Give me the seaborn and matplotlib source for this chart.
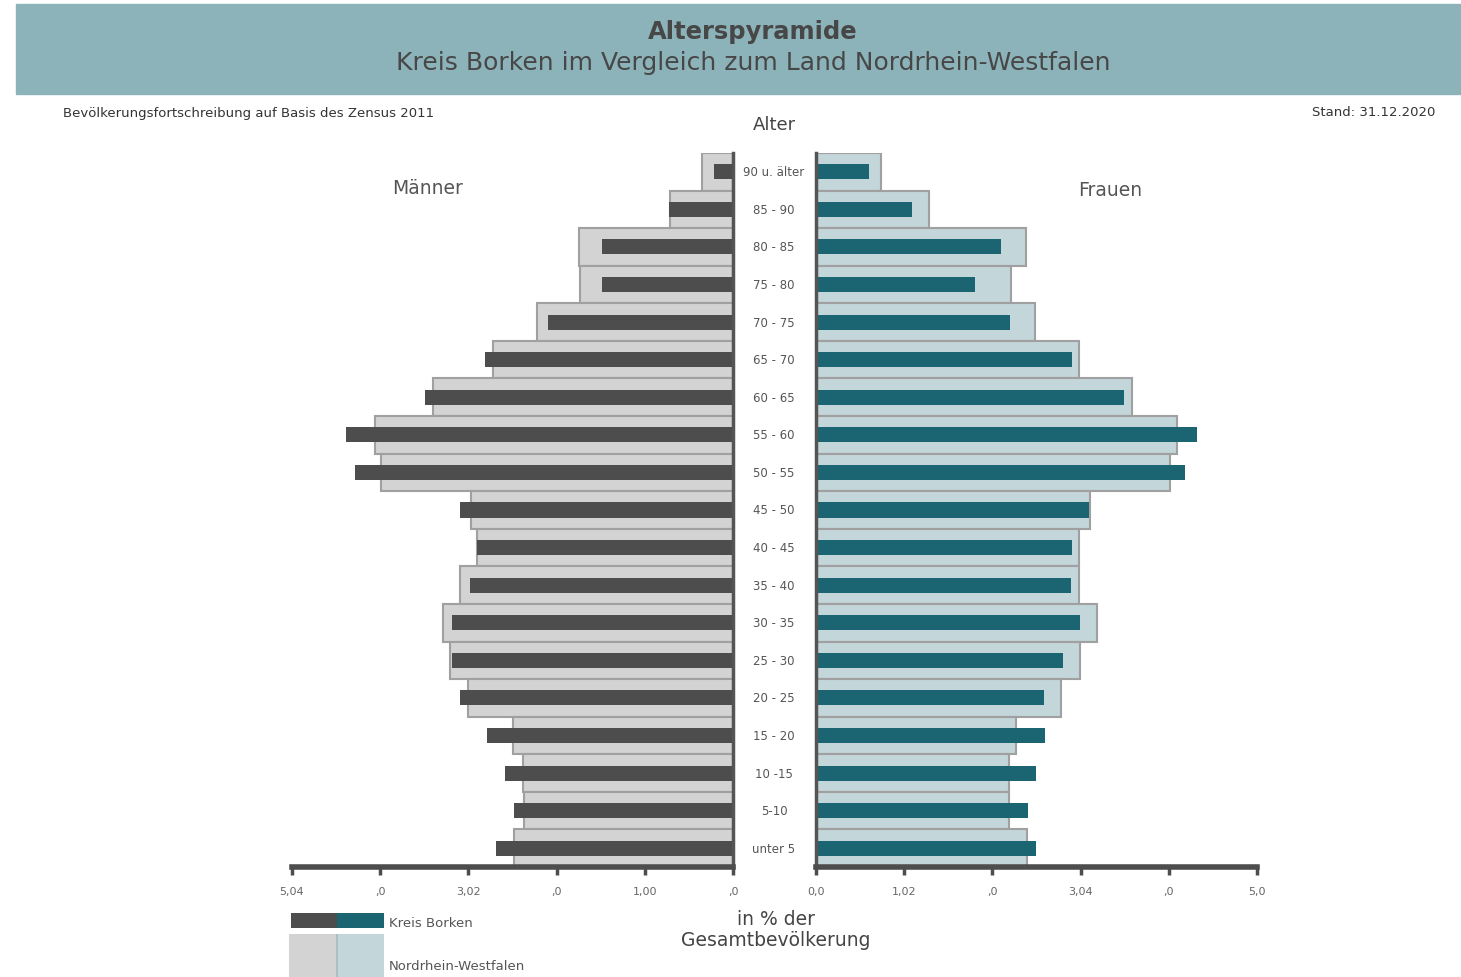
import numpy as np
import pandas as pd
import seaborn as sns
import matplotlib.pyplot as plt
from matplotlib.patches import Rectangle
from matplotlib.transforms import blended_transform_factory

# Altersgruppen (oben -> unten)
alter = ['90 u. älter', '85 - 90', '80 - 85', '75 - 80', '70 - 75', '65 - 70',
         '60 - 65', '55 - 60', '50 - 55', '45 - 50', '40 - 45', '35 - 40',
         '30 - 35', '25 - 30', '20 - 25', '15 - 20', '10 -15', '5-10', 'unter 5']

# Anteile in % der Gesamtbevoelkerung
maenner_nrw = [0.35, 0.72, 1.76, 1.75, 2.24, 2.74, 3.43, 4.09, 4.02, 3.00,
               2.93, 3.12, 3.32, 3.23, 3.03, 2.51, 2.40, 2.39, 2.50]
maenner_borken = [0.22, 0.73, 1.50, 1.50, 2.11, 2.83, 3.52, 4.42, 4.32, 3.12,
                  2.93, 3.01, 3.21, 3.21, 3.12, 2.81, 2.61, 2.50, 2.71]
frauen_nrw = [0.74, 1.29, 2.40, 2.23, 2.50, 3.00, 3.61, 4.13, 4.04, 3.13,
              3.00, 3.00, 3.21, 3.02, 2.80, 2.29, 2.20, 2.20, 2.41]
frauen_borken = [0.61, 1.10, 2.12, 1.82, 2.22, 2.92, 3.52, 4.35, 4.22, 3.12,
                 2.93, 2.91, 3.02, 2.82, 2.61, 2.62, 2.51, 2.42, 2.51]

# Achsenbeschriftung (so wie im Original)
ticks = [0, 1.008, 2.016, 3.024, 4.032, 5.04]
labels_links = [',0', '1,00', ',0', '3,02', ',0', '5,04']
labels_rechts = ['0,0', '1,02', ',0', '3,04', ',0', '5,0']

df = pd.DataFrame({'alter': alter,
                   'm_nrw': maenner_nrw, 'm_borken': maenner_borken,
                   'f_nrw': frauen_nrw, 'f_borken': frauen_borken})

sns.set_style('white')
plt.rcParams['font.family'] = ['DejaVu Sans']

W, H = 1461, 978
fig = plt.figure(figsize=(W / 100, H / 100), dpi=100)

# Kopfband
fig.add_artist(Rectangle((16 / W, 1 - 95 / H), 1 - 16 / W, 90 / H,
                         transform=fig.transFigure, color='#8cb3b9', zorder=0))
fig.text(753 / W, 1 - 32 / H, 'Alterspyramide', ha='center', va='center',
         fontsize=17.5, color='#474747', fontweight='semibold')
fig.text(753 / W, 1 - 63 / H, 'Kreis Borken im Vergleich zum Land Nordrhein-Westfalen',
         ha='center', va='center', fontsize=18, color='#474747')

fig.text(63 / W, 1 - 113 / H, 'Bevölkerungsfortschreibung auf Basis des Zensus 2011',
         ha='left', va='center', fontsize=9.5, color='#333333')
fig.text(1435 / W, 1 - 113 / H, 'Stand: 31.12.2020', ha='right', va='center',
         fontsize=9.5, color='#333333')
fig.text(774 / W, 1 - 125 / H, 'Alter', ha='center', va='center', fontsize=13, color='#444444')
fig.text(428 / W, 1 - 189 / H, 'Männer', ha='center', va='center', fontsize=13.5, color='#555555')
fig.text(1110 / W, 1 - 191 / H, 'Frauen', ha='center', va='center', fontsize=13.5, color='#555555')
fig.text(776 / W, 1 - 930 / H, 'in % der\nGesamtbevölkerung', ha='center', va='center',
         fontsize=13.5, color='#444444', linespacing=1.1)

bottom = 1 - 868 / H
height = (868 - 154) / H
ax_l = fig.add_axes([292 / W, bottom, 441 / W, height])
ax_r = fig.add_axes([816 / W, bottom, 441 / W, height])

sns.barplot(data=df, x='m_nrw', y='alter', orient='h', color='#d3d3d3', saturation=1,
            edgecolor='#a0a0a0', linewidth=1.5, width=1.0, ax=ax_l)
sns.barplot(data=df, x='m_borken', y='alter', orient='h', color='#4d4d4d', saturation=1,
            linewidth=0, width=0.4, ax=ax_l)
sns.barplot(data=df, x='f_nrw', y='alter', orient='h', color='#c3d6da', saturation=1,
            edgecolor='#a0a0a0', linewidth=1.5, width=1.0, ax=ax_r)
sns.barplot(data=df, x='f_borken', y='alter', orient='h', color='#1b6472', saturation=1,
            linewidth=0, width=0.4, ax=ax_r)

ax_l.set_xlim(5.04, 0)
ax_r.set_xlim(0, 5.04)
for ax, labs in [(ax_l, labels_links), (ax_r, labels_rechts)]:
    ax.set_ylim(len(alter) - 0.5, -0.5)
    ax.set_yticks([])
    ax.set_xlabel('')
    ax.set_ylabel('')
    ax.set_xticks(ticks)
    ax.set_xticklabels(labs)
    ax.tick_params(axis='x', direction='out', length=6, width=2.5, color='#4d4d4d',
                   labelsize=8, labelcolor='#666666', pad=8, bottom=True)
    ax.spines['top'].set_visible(False)
    ax.spines['bottom'].set_color('#4d4d4d')
    ax.spines['bottom'].set_linewidth(4)
    ax.patch.set_alpha(0)

ax_l.spines['left'].set_visible(False)
ax_l.spines['right'].set_color('#555555')
ax_l.spines['right'].set_linewidth(2.5)
ax_r.spines['right'].set_visible(False)
ax_r.spines['left'].set_color('#555555')
ax_r.spines['left'].set_linewidth(2.5)

# Altersgruppen in der Mitte
trans = blended_transform_factory(fig.transFigure, ax_l.transData)
for i, a in enumerate(alter):
    ax_l.text(774 / W, i, a, transform=trans, ha='center', va='center',
              fontsize=8.5, color='#555555', clip_on=False)

# Legende
def rect(x0, y0, x1, y1, c):
    fig.add_artist(Rectangle((x0 / W, 1 - y1 / H), (x1 - x0) / W, (y1 - y0) / H,
                             transform=fig.transFigure, color=c, lw=0))

rect(291, 914, 337, 929, '#4d4d4d')
rect(337, 914, 384, 929, '#1b6472')
rect(289, 935, 337, 978, '#d3d3d3')
rect(337, 935, 384, 978, '#c3d6da')
rect(336, 935, 338, 978, '#a9bfc4')
fig.text(389 / W, 1 - 924 / H, 'Kreis Borken', ha='left', va='center', fontsize=9.5, color='#555555')
fig.text(389 / W, 1 - 967 / H, 'Nordrhein-Westfalen', ha='left', va='center', fontsize=9.5, color='#555555')

fig.savefig('out.png', dpi=100)
